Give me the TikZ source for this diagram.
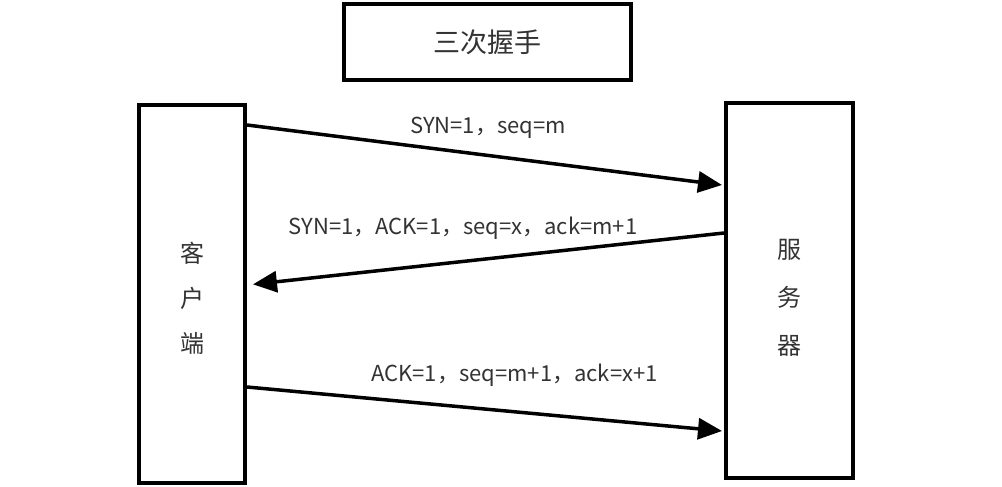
\documentclass[tikz,border=0pt]{standalone}
\usepackage{fontspec}
\setmainfont{Noto Sans CJK SC}
\usetikzlibrary{calc,arrows.meta}
\tikzset{box/.style={draw,line width=4pt,rectangle,inner sep=0pt},
	msg/.style={line width=3.5pt,-{Triangle[length=24pt,width=21pt]}},
	lbl/.style={text=black!80,font=\fontsize{22}{26}\selectfont,inner sep=0pt},
	side/.style={text=black!80,align=center,inner sep=0pt}}
\begin{document}
\begin{tikzpicture}[x=1pt,y=-1pt]
	\useasboundingbox (0,0) rectangle (1002,487);
	\node[box,minimum width=287pt,minimum height=76pt,text=black!80,
	font=\fontsize{27}{30}\selectfont] (title) at (487.5,42) {三次握手};
	\node[box,minimum width=106pt,minimum height=378pt] (client) at (192,294) {};
	\node[box,minimum width=127pt,minimum height=375pt] (server) at (789.5,290.5) {};
	\node[side,font=\fontsize{24}{45}\selectfont] (clientname) at ($(client)+(0,4)$) {客\\户\\端};
	\node[side,font=\fontsize{24}{48}\selectfont] (servername) at ($(server)+(0,7)$) {服\\务\\器};
	% three messages
	\draw[msg] ($(client.north east)+(0,22)$) -- ($(server.north west)+(-2,84)$);
	\draw[msg,shorten >=6pt] ($(server.north west)+(0,132)$) -- ($(client.north east)+(0,182)$);
	\draw[msg] ($(client.north east)+(0,284)$) -- ($(server.north west)+(-2,330)$);
	\foreach \X/\Y/\T in {488/128/{SYN=1，seq=m},
		463/228/{SYN=1，ACK=1，seq=x，ack=m+1},
		514.5/375/{ACK=1，seq=m+1，ack=x+1}}
	{\node[lbl] at (\X,\Y) {\T};}
\end{tikzpicture}
\end{document}
